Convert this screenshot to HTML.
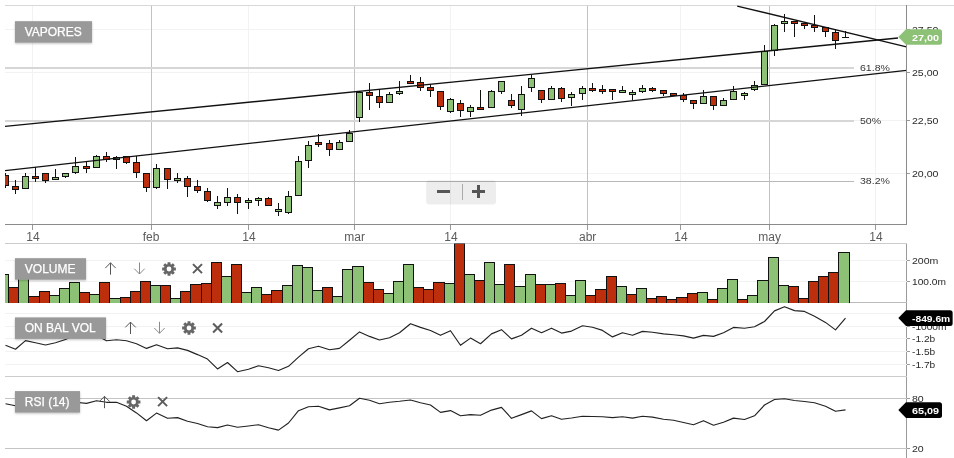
<!DOCTYPE html>
<html lang="es"><head><meta charset="utf-8"><title>VAPORES</title>
<style>html,body{margin:0;padding:0;background:#fff;overflow:hidden}svg{display:block}</style>
</head><body>
<svg width="954" height="458" viewBox="0 0 954 458" font-family="'Liberation Sans', sans-serif">
<defs>
<clipPath id="cm"><rect x="5" y="5" width="901.5" height="219.5"/></clipPath>
<clipPath id="cv"><rect x="5" y="243.5" width="901.5" height="59.5"/></clipPath>
<clipPath id="co"><rect x="5" y="303" width="901.5" height="73.5"/></clipPath>
<clipPath id="cr"><rect x="5" y="377" width="901.5" height="81"/></clipPath>
<filter id="sh" x="-10%" y="-20%" width="120%" height="150%"><feGaussianBlur in="SourceAlpha" stdDeviation="1"/><feOffset dy="1"/><feComponentTransfer><feFuncA type="linear" slope="0.25"/></feComponentTransfer><feMerge><feMergeNode/><feMergeNode in="SourceGraphic"/></feMerge></filter>
</defs>
<rect width="954" height="458" fill="#fff"/>
<g shape-rendering="crispEdges">
<line x1="5" x2="954" y1="5.5" y2="5.5" stroke="#d8d8d8"/>
<line x1="5" x2="906.5" y1="29.5" y2="29.5" stroke="#f2f2f2"/>
<line x1="5" x2="906.5" y1="72.5" y2="72.5" stroke="#f2f2f2"/>
<line x1="5" x2="906.5" y1="120.5" y2="120.5" stroke="#f2f2f2"/>
<line x1="5" x2="906.5" y1="173.5" y2="173.5" stroke="#f2f2f2"/>
<line x1="32.5" x2="32.5" y1="6" y2="224" stroke="#f2f2f2"/>
<line x1="151.5" x2="151.5" y1="6" y2="224" stroke="#c2c2c2"/>
<line x1="248.5" x2="248.5" y1="6" y2="224" stroke="#f2f2f2"/>
<line x1="354.5" x2="354.5" y1="6" y2="224" stroke="#c2c2c2"/>
<line x1="450.5" x2="450.5" y1="6" y2="224" stroke="#f2f2f2"/>
<line x1="587.5" x2="587.5" y1="6" y2="224" stroke="#c2c2c2"/>
<line x1="680.5" x2="680.5" y1="6" y2="224" stroke="#f2f2f2"/>
<line x1="769.5" x2="769.5" y1="6" y2="224" stroke="#c2c2c2"/>
<line x1="875.5" x2="875.5" y1="6" y2="224" stroke="#f2f2f2"/>
</g>
<line x1="5" x2="854" y1="68.0" y2="68.0" stroke="#d6d6d6" stroke-width="2"/>
<text transform="translate(860,71) scale(1.09,1)" font-size="9.7" fill="#383838">61.8%</text>
<line x1="5" x2="854" y1="121.0" y2="121.0" stroke="#d6d6d6" stroke-width="2"/>
<text transform="translate(860,124) scale(1.09,1)" font-size="9.7" fill="#383838">50%</text>
<line x1="5" x2="854" y1="181.5" y2="181.5" stroke="#b8b8b8" stroke-width="1"/>
<text transform="translate(860,184) scale(1.09,1)" font-size="9.7" fill="#383838">38.2%</text>
<g clip-path="url(#cm)"><g shape-rendering="crispEdges">
<line x1="5.5" x2="5.5" y1="173" y2="188" stroke="#111" stroke-width="1"/>
<rect x="2.5" y="175.50" width="6" height="10.00" fill="#bd2f0c" stroke="#111" stroke-width="1"/>
<line x1="15.5" x2="15.5" y1="180" y2="194" stroke="#111" stroke-width="1"/>
<rect x="12.5" y="186.50" width="6" height="3.00" fill="#bd2f0c" stroke="#111" stroke-width="1"/>
<line x1="25.5" x2="25.5" y1="173" y2="189" stroke="#111" stroke-width="1"/>
<rect x="22.5" y="176.50" width="6" height="12.00" fill="#8cc176" stroke="#111" stroke-width="1"/>
<line x1="35.5" x2="35.5" y1="167" y2="182" stroke="#111" stroke-width="1"/>
<rect x="32.5" y="176.50" width="6" height="2.00" fill="#bd2f0c" stroke="#111" stroke-width="1"/>
<line x1="45.5" x2="45.5" y1="173" y2="183" stroke="#111" stroke-width="1"/>
<rect x="42.5" y="173.50" width="6" height="7.00" fill="#bd2f0c" stroke="#111" stroke-width="1"/>
<line x1="55.5" x2="55.5" y1="169" y2="180" stroke="#111" stroke-width="1"/>
<rect x="52.5" y="177.50" width="6" height="2.00" fill="#8cc176" stroke="#111" stroke-width="1"/>
<line x1="65.5" x2="65.5" y1="173" y2="178" stroke="#111" stroke-width="1"/>
<rect x="62.5" y="173.50" width="6" height="3.00" fill="#8cc176" stroke="#111" stroke-width="1"/>
<line x1="75.5" x2="75.5" y1="157" y2="174" stroke="#111" stroke-width="1"/>
<rect x="72.5" y="166.50" width="6" height="6.00" fill="#8cc176" stroke="#111" stroke-width="1"/>
<line x1="86.5" x2="86.5" y1="161" y2="173" stroke="#111" stroke-width="1"/>
<rect x="83.5" y="166.50" width="6" height="2.00" fill="#bd2f0c" stroke="#111" stroke-width="1"/>
<line x1="96.5" x2="96.5" y1="155" y2="168" stroke="#111" stroke-width="1"/>
<rect x="93.5" y="156.50" width="6" height="11.00" fill="#8cc176" stroke="#111" stroke-width="1"/>
<line x1="106.5" x2="106.5" y1="152" y2="162" stroke="#111" stroke-width="1"/>
<rect x="103.5" y="156.50" width="6" height="3.00" fill="#bd2f0c" stroke="#111" stroke-width="1"/>
<line x1="116.5" x2="116.5" y1="156" y2="169" stroke="#111" stroke-width="1"/>
<rect x="113.5" y="157.50" width="6" height="2.00" fill="#8cc176" stroke="#111" stroke-width="1"/>
<line x1="126.5" x2="126.5" y1="156" y2="164" stroke="#111" stroke-width="1"/>
<rect x="123.5" y="156.50" width="6" height="6.00" fill="#bd2f0c" stroke="#111" stroke-width="1"/>
<line x1="136.5" x2="136.5" y1="156" y2="178" stroke="#111" stroke-width="1"/>
<rect x="133.5" y="162.50" width="6" height="10.00" fill="#bd2f0c" stroke="#111" stroke-width="1"/>
<line x1="146.5" x2="146.5" y1="173" y2="192" stroke="#111" stroke-width="1"/>
<rect x="143.5" y="173.50" width="6" height="14.00" fill="#bd2f0c" stroke="#111" stroke-width="1"/>
<line x1="156.5" x2="156.5" y1="164" y2="189" stroke="#111" stroke-width="1"/>
<rect x="153.5" y="168.50" width="6" height="19.00" fill="#8cc176" stroke="#111" stroke-width="1"/>
<line x1="167.5" x2="167.5" y1="168" y2="189" stroke="#111" stroke-width="1"/>
<rect x="164.5" y="168.50" width="6" height="11.00" fill="#bd2f0c" stroke="#111" stroke-width="1"/>
<line x1="177.5" x2="177.5" y1="173" y2="183" stroke="#111" stroke-width="1"/>
<rect x="174.5" y="178.50" width="6" height="2.00" fill="#8cc176" stroke="#111" stroke-width="1"/>
<line x1="187.5" x2="187.5" y1="176" y2="197" stroke="#111" stroke-width="1"/>
<rect x="184.5" y="178.50" width="6" height="8.00" fill="#bd2f0c" stroke="#111" stroke-width="1"/>
<line x1="197.5" x2="197.5" y1="180" y2="193" stroke="#111" stroke-width="1"/>
<rect x="194.5" y="186.50" width="6" height="4.00" fill="#bd2f0c" stroke="#111" stroke-width="1"/>
<line x1="207.5" x2="207.5" y1="188" y2="202" stroke="#111" stroke-width="1"/>
<rect x="204.5" y="191.50" width="6" height="9.00" fill="#bd2f0c" stroke="#111" stroke-width="1"/>
<line x1="217.5" x2="217.5" y1="196" y2="209" stroke="#111" stroke-width="1"/>
<rect x="214.5" y="202.50" width="6" height="3.00" fill="#8cc176" stroke="#111" stroke-width="1"/>
<line x1="227.5" x2="227.5" y1="188" y2="206" stroke="#111" stroke-width="1"/>
<rect x="224.5" y="197.50" width="6" height="5.00" fill="#8cc176" stroke="#111" stroke-width="1"/>
<line x1="237.5" x2="237.5" y1="194" y2="214" stroke="#111" stroke-width="1"/>
<rect x="234.5" y="197.50" width="6" height="5.00" fill="#bd2f0c" stroke="#111" stroke-width="1"/>
<line x1="248.5" x2="248.5" y1="198" y2="209" stroke="#111" stroke-width="1"/>
<rect x="245.5" y="200.50" width="6" height="2.00" fill="#8cc176" stroke="#111" stroke-width="1"/>
<line x1="258.5" x2="258.5" y1="197" y2="206" stroke="#111" stroke-width="1"/>
<rect x="255.5" y="198.50" width="6" height="2.00" fill="#8cc176" stroke="#111" stroke-width="1"/>
<line x1="268.5" x2="268.5" y1="197" y2="206" stroke="#111" stroke-width="1"/>
<rect x="265.5" y="198.50" width="6" height="7.00" fill="#bd2f0c" stroke="#111" stroke-width="1"/>
<line x1="278.5" x2="278.5" y1="203" y2="216" stroke="#111" stroke-width="1"/>
<rect x="275.5" y="209.50" width="6" height="2.00" fill="#8cc176" stroke="#111" stroke-width="1"/>
<line x1="288.5" x2="288.5" y1="191" y2="214" stroke="#111" stroke-width="1"/>
<rect x="285.5" y="196.50" width="6" height="16.00" fill="#8cc176" stroke="#111" stroke-width="1"/>
<line x1="298.5" x2="298.5" y1="156" y2="196" stroke="#111" stroke-width="1"/>
<rect x="295.5" y="161.50" width="6" height="34.00" fill="#8cc176" stroke="#111" stroke-width="1"/>
<line x1="308.5" x2="308.5" y1="141" y2="168" stroke="#111" stroke-width="1"/>
<rect x="305.5" y="145.50" width="6" height="15.00" fill="#8cc176" stroke="#111" stroke-width="1"/>
<line x1="318.5" x2="318.5" y1="134" y2="147" stroke="#111" stroke-width="1"/>
<rect x="315.5" y="142.50" width="6" height="2.00" fill="#bd2f0c" stroke="#111" stroke-width="1"/>
<line x1="329.5" x2="329.5" y1="140" y2="156" stroke="#111" stroke-width="1"/>
<rect x="326.5" y="143.50" width="6" height="6.00" fill="#bd2f0c" stroke="#111" stroke-width="1"/>
<line x1="339.5" x2="339.5" y1="140" y2="150" stroke="#111" stroke-width="1"/>
<rect x="336.5" y="142.50" width="6" height="7.00" fill="#8cc176" stroke="#111" stroke-width="1"/>
<line x1="349.5" x2="349.5" y1="130" y2="142" stroke="#111" stroke-width="1"/>
<rect x="346.5" y="133.50" width="6" height="8.00" fill="#8cc176" stroke="#111" stroke-width="1"/>
<line x1="359.5" x2="359.5" y1="91" y2="122" stroke="#111" stroke-width="1"/>
<rect x="356.5" y="92.50" width="6" height="25.00" fill="#8cc176" stroke="#111" stroke-width="1"/>
<line x1="369.5" x2="369.5" y1="83" y2="110" stroke="#111" stroke-width="1"/>
<rect x="366.5" y="92.50" width="6" height="3.00" fill="#bd2f0c" stroke="#111" stroke-width="1"/>
<line x1="379.5" x2="379.5" y1="89" y2="108" stroke="#111" stroke-width="1"/>
<rect x="376.5" y="96.50" width="6" height="6.00" fill="#bd2f0c" stroke="#111" stroke-width="1"/>
<line x1="389.5" x2="389.5" y1="92" y2="103" stroke="#111" stroke-width="1"/>
<rect x="386.5" y="94.50" width="6" height="8.00" fill="#8cc176" stroke="#111" stroke-width="1"/>
<line x1="399.5" x2="399.5" y1="81" y2="95" stroke="#111" stroke-width="1"/>
<rect x="396.5" y="91.50" width="6" height="2.00" fill="#8cc176" stroke="#111" stroke-width="1"/>
<line x1="410.5" x2="410.5" y1="75" y2="84" stroke="#111" stroke-width="1"/>
<rect x="407.5" y="81.50" width="6" height="2.00" fill="#bd2f0c" stroke="#111" stroke-width="1"/>
<line x1="420.5" x2="420.5" y1="77" y2="91" stroke="#111" stroke-width="1"/>
<rect x="417.5" y="82.50" width="6" height="5.00" fill="#bd2f0c" stroke="#111" stroke-width="1"/>
<line x1="430.5" x2="430.5" y1="84" y2="97" stroke="#111" stroke-width="1"/>
<rect x="427.5" y="87.50" width="6" height="3.00" fill="#bd2f0c" stroke="#111" stroke-width="1"/>
<line x1="440.5" x2="440.5" y1="91" y2="110" stroke="#111" stroke-width="1"/>
<rect x="437.5" y="91.50" width="6" height="15.00" fill="#bd2f0c" stroke="#111" stroke-width="1"/>
<line x1="450.5" x2="450.5" y1="98" y2="113" stroke="#111" stroke-width="1"/>
<rect x="447.5" y="99.50" width="6" height="12.00" fill="#8cc176" stroke="#111" stroke-width="1"/>
<line x1="460.5" x2="460.5" y1="100" y2="117" stroke="#111" stroke-width="1"/>
<rect x="457.5" y="103.50" width="6" height="7.00" fill="#bd2f0c" stroke="#111" stroke-width="1"/>
<line x1="470.5" x2="470.5" y1="105" y2="117" stroke="#111" stroke-width="1"/>
<rect x="467.5" y="107.50" width="6" height="4.00" fill="#8cc176" stroke="#111" stroke-width="1"/>
<line x1="480.5" x2="480.5" y1="90" y2="110" stroke="#111" stroke-width="1"/>
<rect x="477.5" y="107.50" width="6" height="2.00" fill="#bd2f0c" stroke="#111" stroke-width="1"/>
<line x1="491.5" x2="491.5" y1="90" y2="108" stroke="#111" stroke-width="1"/>
<rect x="488.5" y="91.50" width="6" height="16.00" fill="#8cc176" stroke="#111" stroke-width="1"/>
<line x1="501.5" x2="501.5" y1="81" y2="94" stroke="#111" stroke-width="1"/>
<rect x="498.5" y="81.50" width="6" height="10.00" fill="#8cc176" stroke="#111" stroke-width="1"/>
<line x1="511.5" x2="511.5" y1="94" y2="108" stroke="#111" stroke-width="1"/>
<rect x="508.5" y="100.50" width="6" height="5.00" fill="#bd2f0c" stroke="#111" stroke-width="1"/>
<line x1="521.5" x2="521.5" y1="86" y2="116" stroke="#111" stroke-width="1"/>
<rect x="518.5" y="94.50" width="6" height="15.00" fill="#8cc176" stroke="#111" stroke-width="1"/>
<line x1="531.5" x2="531.5" y1="75" y2="92" stroke="#111" stroke-width="1"/>
<rect x="528.5" y="78.50" width="6" height="9.00" fill="#8cc176" stroke="#111" stroke-width="1"/>
<line x1="541.5" x2="541.5" y1="90" y2="103" stroke="#111" stroke-width="1"/>
<rect x="538.5" y="90.50" width="6" height="9.00" fill="#bd2f0c" stroke="#111" stroke-width="1"/>
<line x1="551.5" x2="551.5" y1="86" y2="100" stroke="#111" stroke-width="1"/>
<rect x="548.5" y="88.50" width="6" height="11.00" fill="#8cc176" stroke="#111" stroke-width="1"/>
<line x1="561.5" x2="561.5" y1="87" y2="102" stroke="#111" stroke-width="1"/>
<rect x="558.5" y="88.50" width="6" height="10.00" fill="#bd2f0c" stroke="#111" stroke-width="1"/>
<line x1="571.5" x2="571.5" y1="92" y2="106" stroke="#111" stroke-width="1"/>
<rect x="568.5" y="94.50" width="6" height="3.00" fill="#8cc176" stroke="#111" stroke-width="1"/>
<line x1="582.5" x2="582.5" y1="86" y2="100" stroke="#111" stroke-width="1"/>
<rect x="579.5" y="88.50" width="6" height="5.00" fill="#8cc176" stroke="#111" stroke-width="1"/>
<line x1="592.5" x2="592.5" y1="83" y2="92" stroke="#111" stroke-width="1"/>
<rect x="589.5" y="88.50" width="6" height="2.00" fill="#bd2f0c" stroke="#111" stroke-width="1"/>
<line x1="602.5" x2="602.5" y1="85" y2="94" stroke="#111" stroke-width="1"/>
<rect x="599.5" y="89.50" width="6" height="2.00" fill="#bd2f0c" stroke="#111" stroke-width="1"/>
<line x1="612.5" x2="612.5" y1="89" y2="100" stroke="#111" stroke-width="1"/>
<rect x="609.5" y="89.50" width="6" height="2.00" fill="#bd2f0c" stroke="#111" stroke-width="1"/>
<line x1="622.5" x2="622.5" y1="86" y2="93" stroke="#111" stroke-width="1"/>
<rect x="619.5" y="90.50" width="6" height="2.00" fill="#8cc176" stroke="#111" stroke-width="1"/>
<line x1="632.5" x2="632.5" y1="90" y2="100" stroke="#111" stroke-width="1"/>
<rect x="629.5" y="92.50" width="6" height="2.00" fill="#8cc176" stroke="#111" stroke-width="1"/>
<line x1="642.5" x2="642.5" y1="85" y2="93" stroke="#111" stroke-width="1"/>
<rect x="639.5" y="88.50" width="6" height="3.00" fill="#8cc176" stroke="#111" stroke-width="1"/>
<line x1="652.5" x2="652.5" y1="87" y2="92" stroke="#111" stroke-width="1"/>
<rect x="649.5" y="88.50" width="6" height="2.00" fill="#bd2f0c" stroke="#111" stroke-width="1"/>
<line x1="663.5" x2="663.5" y1="90" y2="96" stroke="#111" stroke-width="1"/>
<rect x="660.5" y="90.50" width="6" height="3.00" fill="#bd2f0c" stroke="#111" stroke-width="1"/>
<line x1="673.5" x2="673.5" y1="93" y2="96" stroke="#111" stroke-width="1"/>
<rect x="670.5" y="93.50" width="6" height="2.00" fill="#bd2f0c" stroke="#111" stroke-width="1"/>
<line x1="683.5" x2="683.5" y1="93" y2="102" stroke="#111" stroke-width="1"/>
<rect x="680.5" y="95.50" width="6" height="4.00" fill="#bd2f0c" stroke="#111" stroke-width="1"/>
<line x1="693.5" x2="693.5" y1="100" y2="109" stroke="#111" stroke-width="1"/>
<rect x="690.5" y="100.50" width="6" height="3.00" fill="#bd2f0c" stroke="#111" stroke-width="1"/>
<line x1="703.5" x2="703.5" y1="90" y2="104" stroke="#111" stroke-width="1"/>
<rect x="700.5" y="96.50" width="6" height="7.00" fill="#8cc176" stroke="#111" stroke-width="1"/>
<line x1="713.5" x2="713.5" y1="96" y2="110" stroke="#111" stroke-width="1"/>
<rect x="710.5" y="96.50" width="6" height="9.00" fill="#bd2f0c" stroke="#111" stroke-width="1"/>
<line x1="723.5" x2="723.5" y1="98" y2="106" stroke="#111" stroke-width="1"/>
<rect x="720.5" y="100.50" width="6" height="5.00" fill="#8cc176" stroke="#111" stroke-width="1"/>
<line x1="733.5" x2="733.5" y1="86" y2="100" stroke="#111" stroke-width="1"/>
<rect x="730.5" y="91.50" width="6" height="8.00" fill="#8cc176" stroke="#111" stroke-width="1"/>
<line x1="744.5" x2="744.5" y1="92" y2="100" stroke="#111" stroke-width="1"/>
<rect x="741.5" y="93.50" width="6" height="2.00" fill="#8cc176" stroke="#111" stroke-width="1"/>
<line x1="754.5" x2="754.5" y1="81" y2="91" stroke="#111" stroke-width="1"/>
<rect x="751.5" y="85.50" width="6" height="4.00" fill="#8cc176" stroke="#111" stroke-width="1"/>
<line x1="764.5" x2="764.5" y1="45" y2="85" stroke="#111" stroke-width="1"/>
<rect x="761.5" y="51.50" width="6" height="33.00" fill="#8cc176" stroke="#111" stroke-width="1"/>
<line x1="774.5" x2="774.5" y1="24" y2="56" stroke="#111" stroke-width="1"/>
<rect x="771.5" y="25.50" width="6" height="25.00" fill="#8cc176" stroke="#111" stroke-width="1"/>
<line x1="784.5" x2="784.5" y1="14" y2="32" stroke="#111" stroke-width="1"/>
<rect x="781.5" y="21.50" width="6" height="2.00" fill="#8cc176" stroke="#111" stroke-width="1"/>
<line x1="794.5" x2="794.5" y1="21" y2="37" stroke="#111" stroke-width="1"/>
<rect x="791.5" y="21.50" width="6" height="2.00" fill="#bd2f0c" stroke="#111" stroke-width="1"/>
<line x1="804.5" x2="804.5" y1="23" y2="29" stroke="#111" stroke-width="1"/>
<rect x="801.5" y="23.50" width="6" height="2.00" fill="#bd2f0c" stroke="#111" stroke-width="1"/>
<line x1="814.5" x2="814.5" y1="15" y2="32" stroke="#111" stroke-width="1"/>
<rect x="811.5" y="25.50" width="6" height="2.00" fill="#bd2f0c" stroke="#111" stroke-width="1"/>
<line x1="825.5" x2="825.5" y1="27" y2="37" stroke="#111" stroke-width="1"/>
<rect x="822.5" y="27.50" width="6" height="4.00" fill="#bd2f0c" stroke="#111" stroke-width="1"/>
<line x1="835.5" x2="835.5" y1="29" y2="49" stroke="#111" stroke-width="1"/>
<rect x="832.5" y="32.50" width="6" height="8.00" fill="#bd2f0c" stroke="#111" stroke-width="1"/>
<line x1="845.5" x2="845.5" y1="31" y2="38" stroke="#111" stroke-width="1"/>
<line x1="842.0" x2="849.0" y1="37.5" y2="37.5" stroke="#111" stroke-width="1"/>
</g>
<line x1="5" y1="126.4" x2="898" y2="38.0" stroke="#111" stroke-width="1.35"/>
<line x1="5" y1="170.6" x2="906.5" y2="70.3" stroke="#111" stroke-width="1.35"/>
<line x1="737.2" y1="6.1" x2="906.5" y2="46.8" stroke="#111" stroke-width="1.35"/>
</g>
<g shape-rendering="crispEdges">
<line x1="5" x2="907.0" y1="224.5" y2="224.5" stroke="#8a8a8a"/>
<line x1="906.5" x2="906.5" y1="5" y2="225" stroke="#8a8a8a"/>
<line x1="906.5" x2="906.5" y1="243" y2="458" stroke="#9a9a9a"/>
<line x1="32.5" x2="32.5" y1="225" y2="230" stroke="#999"/>
<line x1="151.5" x2="151.5" y1="225" y2="230" stroke="#999"/>
<line x1="248.5" x2="248.5" y1="225" y2="230" stroke="#999"/>
<line x1="354.5" x2="354.5" y1="225" y2="230" stroke="#999"/>
<line x1="450.5" x2="450.5" y1="225" y2="230" stroke="#999"/>
<line x1="587.5" x2="587.5" y1="225" y2="230" stroke="#999"/>
<line x1="680.5" x2="680.5" y1="225" y2="230" stroke="#999"/>
<line x1="769.5" x2="769.5" y1="225" y2="230" stroke="#999"/>
<line x1="875.5" x2="875.5" y1="225" y2="230" stroke="#999"/>
<line x1="5" x2="906.5" y1="243.5" y2="243.5" stroke="#ccc"/>
<line x1="5" x2="906.5" y1="302.5" y2="302.5" stroke="#bbb"/>
<line x1="5" x2="906.5" y1="376.5" y2="376.5" stroke="#ccc"/>
<line x1="5" x2="906.5" y1="260.5" y2="260.5" stroke="#f2f2f2"/>
<line x1="5" x2="906.5" y1="281.5" y2="281.5" stroke="#f2f2f2"/>
<line x1="5" x2="906.5" y1="313.5" y2="313.5" stroke="#f2f2f2"/>
<line x1="5" x2="906.5" y1="326.5" y2="326.5" stroke="#f2f2f2"/>
<line x1="5" x2="906.5" y1="338.5" y2="338.5" stroke="#f2f2f2"/>
<line x1="5" x2="906.5" y1="351.5" y2="351.5" stroke="#f2f2f2"/>
<line x1="5" x2="906.5" y1="364.5" y2="364.5" stroke="#f2f2f2"/>
<line x1="5" x2="906.5" y1="398.5" y2="398.5" stroke="#c4c4c4"/>
<line x1="5" x2="906.5" y1="448.5" y2="448.5" stroke="#c4c4c4"/>
<line x1="906.5" x2="910.0" y1="29.5" y2="29.5" stroke="#999"/>
<line x1="906.5" x2="910.0" y1="72.5" y2="72.5" stroke="#999"/>
<line x1="906.5" x2="910.0" y1="120.5" y2="120.5" stroke="#999"/>
<line x1="906.5" x2="910.0" y1="173.5" y2="173.5" stroke="#999"/>
<line x1="906.5" x2="910.0" y1="260.5" y2="260.5" stroke="#999"/>
<line x1="906.5" x2="910.0" y1="281.5" y2="281.5" stroke="#999"/>
<line x1="906.5" x2="910.0" y1="326.5" y2="326.5" stroke="#999"/>
<line x1="906.5" x2="910.0" y1="338.5" y2="338.5" stroke="#999"/>
<line x1="906.5" x2="910.0" y1="351.5" y2="351.5" stroke="#999"/>
<line x1="906.5" x2="910.0" y1="364.5" y2="364.5" stroke="#999"/>
<line x1="906.5" x2="910.0" y1="398.5" y2="398.5" stroke="#999"/>
<line x1="906.5" x2="910.0" y1="448.5" y2="448.5" stroke="#999"/>
</g>
<text x="33.0" y="241" font-size="12" fill="#5c5c5c" text-anchor="middle">14</text>
<text x="151.0" y="241" font-size="12" fill="#5c5c5c" text-anchor="middle">feb</text>
<text x="249.0" y="241" font-size="12" fill="#5c5c5c" text-anchor="middle">14</text>
<text x="354.7" y="241" font-size="12" fill="#5c5c5c" text-anchor="middle">mar</text>
<text x="451.0" y="241" font-size="12" fill="#5c5c5c" text-anchor="middle">14</text>
<text x="587.7" y="241" font-size="12" fill="#5c5c5c" text-anchor="middle">abr</text>
<text x="681.0" y="241" font-size="12" fill="#5c5c5c" text-anchor="middle">14</text>
<text x="769.7" y="241" font-size="12" fill="#5c5c5c" text-anchor="middle">may</text>
<text x="876.0" y="241" font-size="12" fill="#5c5c5c" text-anchor="middle">14</text>
<text transform="translate(912,33) scale(1.09,1)" font-size="9.7" fill="#2a2a2a">27,50</text>
<text transform="translate(912,76) scale(1.09,1)" font-size="9.7" fill="#2a2a2a">25,00</text>
<text transform="translate(912,124) scale(1.09,1)" font-size="9.7" fill="#2a2a2a">22,50</text>
<text transform="translate(912,177) scale(1.09,1)" font-size="9.7" fill="#2a2a2a">20,00</text>
<text transform="translate(912,264) scale(1.09,1)" font-size="9.7" fill="#2a2a2a">200m</text>
<text transform="translate(912,285) scale(1.05,1)" font-size="9.7" fill="#2a2a2a">100.0m</text>
<text transform="translate(912,330) scale(1.05,1)" font-size="9.7" fill="#2a2a2a">-1000m</text>
<text transform="translate(912,342) scale(1.05,1)" font-size="9.7" fill="#2a2a2a">-1.2b</text>
<text transform="translate(912,355) scale(1.05,1)" font-size="9.7" fill="#2a2a2a">-1.5b</text>
<text transform="translate(912,368) scale(1.05,1)" font-size="9.7" fill="#2a2a2a">-1.7b</text>
<text transform="translate(912,402) scale(1.09,1)" font-size="9.7" fill="#2a2a2a">80</text>
<text transform="translate(912,452) scale(1.09,1)" font-size="9.7" fill="#2a2a2a">20</text>
<g clip-path="url(#cv)" shape-rendering="crispEdges">
<path d="M-1.5 303V274.5H8.5V303" fill="#8cc176" stroke="#111" stroke-width="1"/>
<path d="M8.5 303V287.5H18.5V303" fill="#bd2f0c" stroke="#111" stroke-width="1"/>
<path d="M18.5 303V267.5H28.5V303" fill="#8cc176" stroke="#111" stroke-width="1"/>
<path d="M28.5 303V296.5H39.5V303" fill="#bd2f0c" stroke="#111" stroke-width="1"/>
<path d="M39.5 303V291.5H49.5V303" fill="#bd2f0c" stroke="#111" stroke-width="1"/>
<path d="M49.5 303V295.5H59.5V303" fill="#8cc176" stroke="#111" stroke-width="1"/>
<path d="M59.5 303V288.5H69.5V303" fill="#8cc176" stroke="#111" stroke-width="1"/>
<path d="M69.5 303V282.5H79.5V303" fill="#8cc176" stroke="#111" stroke-width="1"/>
<path d="M79.5 303V292.5H89.5V303" fill="#bd2f0c" stroke="#111" stroke-width="1"/>
<path d="M89.5 303V294.5H99.5V303" fill="#8cc176" stroke="#111" stroke-width="1"/>
<path d="M99.5 303V282.5H109.5V303" fill="#bd2f0c" stroke="#111" stroke-width="1"/>
<path d="M109.5 303V298.5H120.5V303" fill="#8cc176" stroke="#111" stroke-width="1"/>
<path d="M120.5 303V297.5H130.5V303" fill="#bd2f0c" stroke="#111" stroke-width="1"/>
<path d="M130.5 303V291.5H140.5V303" fill="#bd2f0c" stroke="#111" stroke-width="1"/>
<path d="M140.5 303V281.5H150.5V303" fill="#bd2f0c" stroke="#111" stroke-width="1"/>
<path d="M150.5 303V285.5H160.5V303" fill="#8cc176" stroke="#111" stroke-width="1"/>
<path d="M160.5 303V285.5H170.5V303" fill="#bd2f0c" stroke="#111" stroke-width="1"/>
<path d="M170.5 303V298.5H180.5V303" fill="#8cc176" stroke="#111" stroke-width="1"/>
<path d="M180.5 303V291.5H190.5V303" fill="#bd2f0c" stroke="#111" stroke-width="1"/>
<path d="M190.5 303V284.5H201.5V303" fill="#bd2f0c" stroke="#111" stroke-width="1"/>
<path d="M201.5 303V283.5H211.5V303" fill="#bd2f0c" stroke="#111" stroke-width="1"/>
<path d="M211.5 303V262.5H221.5V303" fill="#bd2f0c" stroke="#111" stroke-width="1"/>
<path d="M221.5 303V276.5H231.5V303" fill="#8cc176" stroke="#111" stroke-width="1"/>
<path d="M231.5 303V264.5H241.5V303" fill="#bd2f0c" stroke="#111" stroke-width="1"/>
<path d="M241.5 303V292.5H251.5V303" fill="#8cc176" stroke="#111" stroke-width="1"/>
<path d="M251.5 303V287.5H261.5V303" fill="#8cc176" stroke="#111" stroke-width="1"/>
<path d="M261.5 303V294.5H271.5V303" fill="#bd2f0c" stroke="#111" stroke-width="1"/>
<path d="M271.5 303V290.5H282.5V303" fill="#bd2f0c" stroke="#111" stroke-width="1"/>
<path d="M282.5 303V285.5H292.5V303" fill="#8cc176" stroke="#111" stroke-width="1"/>
<path d="M292.5 303V265.5H302.5V303" fill="#8cc176" stroke="#111" stroke-width="1"/>
<path d="M302.5 303V267.5H312.5V303" fill="#8cc176" stroke="#111" stroke-width="1"/>
<path d="M312.5 303V290.5H322.5V303" fill="#8cc176" stroke="#111" stroke-width="1"/>
<path d="M322.5 303V287.5H332.5V303" fill="#bd2f0c" stroke="#111" stroke-width="1"/>
<path d="M332.5 303V296.5H342.5V303" fill="#8cc176" stroke="#111" stroke-width="1"/>
<path d="M342.5 303V269.5H352.5V303" fill="#8cc176" stroke="#111" stroke-width="1"/>
<path d="M352.5 303V266.5H363.5V303" fill="#8cc176" stroke="#111" stroke-width="1"/>
<path d="M363.5 303V282.5H373.5V303" fill="#bd2f0c" stroke="#111" stroke-width="1"/>
<path d="M373.5 303V289.5H383.5V303" fill="#bd2f0c" stroke="#111" stroke-width="1"/>
<path d="M383.5 303V293.5H393.5V303" fill="#8cc176" stroke="#111" stroke-width="1"/>
<path d="M393.5 303V281.5H403.5V303" fill="#8cc176" stroke="#111" stroke-width="1"/>
<path d="M403.5 303V264.5H413.5V303" fill="#8cc176" stroke="#111" stroke-width="1"/>
<path d="M413.5 303V287.5H423.5V303" fill="#bd2f0c" stroke="#111" stroke-width="1"/>
<path d="M423.5 303V289.5H433.5V303" fill="#bd2f0c" stroke="#111" stroke-width="1"/>
<path d="M433.5 303V282.5H444.5V303" fill="#bd2f0c" stroke="#111" stroke-width="1"/>
<path d="M444.5 303V283.5H454.5V303" fill="#8cc176" stroke="#111" stroke-width="1"/>
<path d="M454.5 303V243.5H464.5V303" fill="#bd2f0c" stroke="#111" stroke-width="1"/>
<path d="M464.5 303V274.5H474.5V303" fill="#8cc176" stroke="#111" stroke-width="1"/>
<path d="M474.5 303V280.5H484.5V303" fill="#bd2f0c" stroke="#111" stroke-width="1"/>
<path d="M484.5 303V262.5H494.5V303" fill="#8cc176" stroke="#111" stroke-width="1"/>
<path d="M494.5 303V284.5H504.5V303" fill="#8cc176" stroke="#111" stroke-width="1"/>
<path d="M504.5 303V264.5H514.5V303" fill="#bd2f0c" stroke="#111" stroke-width="1"/>
<path d="M514.5 303V286.5H525.5V303" fill="#8cc176" stroke="#111" stroke-width="1"/>
<path d="M525.5 303V274.5H535.5V303" fill="#8cc176" stroke="#111" stroke-width="1"/>
<path d="M535.5 303V284.5H545.5V303" fill="#bd2f0c" stroke="#111" stroke-width="1"/>
<path d="M545.5 303V284.5H555.5V303" fill="#8cc176" stroke="#111" stroke-width="1"/>
<path d="M555.5 303V283.5H565.5V303" fill="#bd2f0c" stroke="#111" stroke-width="1"/>
<path d="M565.5 303V295.5H575.5V303" fill="#8cc176" stroke="#111" stroke-width="1"/>
<path d="M575.5 303V280.5H585.5V303" fill="#8cc176" stroke="#111" stroke-width="1"/>
<path d="M585.5 303V295.5H595.5V303" fill="#bd2f0c" stroke="#111" stroke-width="1"/>
<path d="M595.5 303V289.5H606.5V303" fill="#bd2f0c" stroke="#111" stroke-width="1"/>
<path d="M606.5 303V276.5H616.5V303" fill="#bd2f0c" stroke="#111" stroke-width="1"/>
<path d="M616.5 303V286.5H626.5V303" fill="#8cc176" stroke="#111" stroke-width="1"/>
<path d="M626.5 303V294.5H636.5V303" fill="#bd2f0c" stroke="#111" stroke-width="1"/>
<path d="M636.5 303V288.5H646.5V303" fill="#8cc176" stroke="#111" stroke-width="1"/>
<path d="M646.5 303V298.5H656.5V303" fill="#bd2f0c" stroke="#111" stroke-width="1"/>
<path d="M656.5 303V296.5H666.5V303" fill="#bd2f0c" stroke="#111" stroke-width="1"/>
<path d="M666.5 303V299.5H676.5V303" fill="#bd2f0c" stroke="#111" stroke-width="1"/>
<path d="M676.5 303V297.5H687.5V303" fill="#bd2f0c" stroke="#111" stroke-width="1"/>
<path d="M687.5 303V293.5H697.5V303" fill="#bd2f0c" stroke="#111" stroke-width="1"/>
<path d="M697.5 303V292.5H707.5V303" fill="#8cc176" stroke="#111" stroke-width="1"/>
<path d="M707.5 303V299.5H717.5V303" fill="#bd2f0c" stroke="#111" stroke-width="1"/>
<path d="M717.5 303V288.5H727.5V303" fill="#8cc176" stroke="#111" stroke-width="1"/>
<path d="M727.5 303V279.5H737.5V303" fill="#8cc176" stroke="#111" stroke-width="1"/>
<path d="M737.5 303V299.5H747.5V303" fill="#bd2f0c" stroke="#111" stroke-width="1"/>
<path d="M747.5 303V295.5H757.5V303" fill="#8cc176" stroke="#111" stroke-width="1"/>
<path d="M757.5 303V280.5H768.5V303" fill="#8cc176" stroke="#111" stroke-width="1"/>
<path d="M768.5 303V257.5H778.5V303" fill="#8cc176" stroke="#111" stroke-width="1"/>
<path d="M778.5 303V285.5H788.5V303" fill="#8cc176" stroke="#111" stroke-width="1"/>
<path d="M788.5 303V286.5H798.5V303" fill="#bd2f0c" stroke="#111" stroke-width="1"/>
<path d="M798.5 303V298.5H808.5V303" fill="#bd2f0c" stroke="#111" stroke-width="1"/>
<path d="M808.5 303V281.5H818.5V303" fill="#bd2f0c" stroke="#111" stroke-width="1"/>
<path d="M818.5 303V276.5H828.5V303" fill="#bd2f0c" stroke="#111" stroke-width="1"/>
<path d="M828.5 303V272.5H838.5V303" fill="#bd2f0c" stroke="#111" stroke-width="1"/>
<path d="M838.5 303V252.5H849.5V303" fill="#8cc176" stroke="#111" stroke-width="1"/>
</g>
<polyline clip-path="url(#co)" points="5.5,345.3 15.5,349.2 25.5,340.6 35.5,342.8 45.5,345.0 55.5,342.8 65.5,339.5 75.5,334.7 86.5,337.1 96.5,335.2 106.5,340.8 116.5,339.8 126.5,340.8 136.5,343.7 146.5,348.4 156.5,344.8 167.5,348.7 177.5,347.9 187.5,350.4 197.5,354.6 207.5,359.1 217.5,368.9 227.5,362.5 237.5,371.7 248.5,369.2 258.5,365.8 268.5,367.7 278.5,370.5 288.5,366.3 298.5,357.1 308.5,348.7 318.5,346.2 329.5,349.7 339.5,348.4 349.5,340.3 359.5,331.9 369.5,336.4 379.5,340.0 389.5,337.8 399.5,332.7 410.5,323.8 420.5,327.4 430.5,330.5 440.5,335.3 450.5,330.7 460.5,345.3 470.5,338.1 480.5,343.7 491.5,333.9 501.5,329.7 511.5,338.9 521.5,335.3 531.5,328.2 541.5,332.7 551.5,328.2 561.5,333.1 571.5,331.1 582.5,325.8 592.5,327.2 602.5,330.4 612.5,336.9 622.5,332.7 632.5,335.3 642.5,331.4 652.5,332.2 663.5,333.9 673.5,334.7 683.5,335.9 693.5,338.1 703.5,335.4 713.5,336.4 723.5,332.7 733.5,327.4 744.5,328.2 754.5,326.7 764.5,321.5 774.5,310.9 784.5,306.7 794.5,310.6 804.5,311.4 814.5,316.3 825.5,322.4 835.5,329.9 845.5,318.2" fill="none" stroke="#222" stroke-width="1.15" stroke-linejoin="round"/>
<polyline clip-path="url(#cr)" points="5.5,403.7 15.5,405.7 25.5,404.5 35.5,404.0 45.5,404.5 55.5,404.0 65.5,403.0 75.5,402.3 86.5,403.4 96.5,400.7 106.5,402.3 116.5,402.3 126.5,406.2 136.5,412.9 146.5,420.7 156.5,413.1 167.5,418.3 177.5,417.6 187.5,421.3 197.5,423.5 207.5,426.7 217.5,427.6 227.5,425.0 237.5,427.2 248.5,426.0 258.5,424.7 268.5,427.7 278.5,430.1 288.5,423.0 298.5,410.7 308.5,406.7 318.5,406.2 329.5,409.9 339.5,407.9 349.5,405.7 359.5,398.3 369.5,400.3 379.5,403.7 389.5,402.2 399.5,401.3 410.5,400.0 420.5,402.8 430.5,405.0 440.5,412.4 450.5,410.6 460.5,415.8 470.5,414.6 480.5,415.3 491.5,410.1 501.5,407.4 511.5,418.3 521.5,414.6 531.5,410.9 541.5,418.6 551.5,415.8 561.5,419.3 571.5,418.0 582.5,416.3 592.5,416.5 602.5,416.7 612.5,417.6 622.5,416.8 632.5,418.1 642.5,416.3 652.5,417.1 663.5,419.2 673.5,420.2 683.5,422.5 693.5,424.7 703.5,420.7 713.5,425.2 723.5,422.2 733.5,418.1 744.5,419.5 754.5,415.8 764.5,405.0 774.5,399.5 784.5,398.8 794.5,400.5 804.5,401.5 814.5,402.8 825.5,406.2 835.5,411.3 845.5,409.9" fill="none" stroke="#222" stroke-width="1.15" stroke-linejoin="round"/>
<g>
<rect x="426.5" y="181" width="69.5" height="24" rx="3" fill="#000" fill-opacity="0.02"/>
<rect x="426" y="180.3" width="70" height="24" rx="3" fill="#000" fill-opacity="0.05"/>
<line x1="462.5" x2="462.5" y1="183.5" y2="199.5" stroke="#aaa" shape-rendering="crispEdges"/>
<rect x="437" y="190" width="13" height="3" fill="#555"/>
<rect x="472" y="190" width="13" height="3" fill="#555"/>
<rect x="477" y="185" width="3" height="13" fill="#555"/>
</g>
<rect x="15" y="21.2" width="77" height="21.5" fill="#999" filter="url(#sh)"/>
<text x="53.2" y="35.8" font-size="12" fill="#fff" stroke="#fff" stroke-width="0.25" text-anchor="middle">VAPORES</text>
<rect x="15" y="258.2" width="71" height="21.5" fill="#999" filter="url(#sh)"/>
<text x="50.2" y="272.8" font-size="12" fill="#fff" stroke="#fff" stroke-width="0.25" text-anchor="middle">VOLUME</text>
<rect x="15" y="317.4" width="91" height="21.5" fill="#999" filter="url(#sh)"/>
<text x="60.2" y="332.0" font-size="12" fill="#fff" stroke="#fff" stroke-width="0.25" text-anchor="middle">ON BAL VOL</text>
<rect x="15" y="391.1" width="65" height="21.5" fill="#999" filter="url(#sh)"/>
<text x="47.2" y="405.7" font-size="12" fill="#fff" stroke="#fff" stroke-width="0.25" text-anchor="middle">RSI (14)</text>
<path d="M110.5 274.7V262.7M105.3 268.09999999999997L110.5 262.8L115.7 268.09999999999997" fill="none" stroke="#555" stroke-width="1"/>
<path d="M139.5 262.5V274.0M134.3 268.7L139.5 274.0L144.7 268.7" fill="none" stroke="#8a8a8a" stroke-width="1"/>
<path d="M173.87 267.49L175.85 267.54L175.85 270.46L173.87 270.51L173.51 271.38L174.87 272.81L172.81 274.87L171.38 273.51L170.51 273.87L170.46 275.85L167.54 275.85L167.49 273.87L166.62 273.51L165.19 274.87L163.13 272.81L164.49 271.38L164.13 270.51L162.15 270.46L162.15 267.54L164.13 267.49L164.49 266.62L163.13 265.19L165.19 263.13L166.62 264.49L167.49 264.13L167.54 262.15L170.46 262.15L170.51 264.13L171.38 264.49L172.81 263.13L174.87 265.19L173.51 266.62ZM171.4 269A2.4 2.4 0 1 0 166.6 269A2.4 2.4 0 1 0 171.4 269Z" fill="#666" fill-rule="evenodd"/>
<path d="M193.0 264.1L202.0 273.1M202.0 264.1L193.0 273.1" fill="none" stroke="#5c5c5c" stroke-width="2"/>
<path d="M130.5 334V322M125.3 327.4L130.5 322.1L135.7 327.4" fill="none" stroke="#555" stroke-width="1"/>
<path d="M159.5 321.8V333.3M154.3 328.0L159.5 333.3L164.7 328.0" fill="none" stroke="#8a8a8a" stroke-width="1"/>
<path d="M193.87 326.49L195.85 326.54L195.85 329.46L193.87 329.51L193.51 330.38L194.87 331.81L192.81 333.87L191.38 332.51L190.51 332.87L190.46 334.85L187.54 334.85L187.49 332.87L186.62 332.51L185.19 333.87L183.13 331.81L184.49 330.38L184.13 329.51L182.15 329.46L182.15 326.54L184.13 326.49L184.49 325.62L183.13 324.19L185.19 322.13L186.62 323.49L187.49 323.13L187.54 321.15L190.46 321.15L190.51 323.13L191.38 323.49L192.81 322.13L194.87 324.19L193.51 325.62ZM191.4 328A2.4 2.4 0 1 0 186.6 328A2.4 2.4 0 1 0 191.4 328Z" fill="#666" fill-rule="evenodd"/>
<path d="M213.1 323.5L222.1 332.5M222.1 323.5L213.1 332.5" fill="none" stroke="#5c5c5c" stroke-width="2"/>
<path d="M104.5 408.2V396.2M99.3 401.59999999999997L104.5 396.3L109.7 401.59999999999997" fill="none" stroke="#555" stroke-width="1"/>
<path d="M138.47 400.49L140.45 400.54L140.45 403.46L138.47 403.51L138.11 404.38L139.47 405.81L137.41 407.87L135.98 406.51L135.11 406.87L135.06 408.85L132.14 408.85L132.09 406.87L131.22 406.51L129.79 407.87L127.73 405.81L129.09 404.38L128.73 403.51L126.75 403.46L126.75 400.54L128.73 400.49L129.09 399.62L127.73 398.19L129.79 396.13L131.22 397.49L132.09 397.13L132.14 395.15L135.06 395.15L135.11 397.13L135.98 397.49L137.41 396.13L139.47 398.19L138.11 399.62ZM136.0 402A2.4 2.4 0 1 0 131.2 402A2.4 2.4 0 1 0 136.0 402Z" fill="#666" fill-rule="evenodd"/>
<path d="M158.1 397.1L167.1 406.1M167.1 397.1L158.1 406.1" fill="none" stroke="#5c5c5c" stroke-width="2"/>
<path d="M898.3 37L906 29.2H939.5Q942 29.2 942 31.7V42.3Q942 44.8 939.5 44.8H906Z" fill="#8cc176"/>
<text transform="translate(912,41) scale(1.12,1)" font-size="9.7" fill="#fff" font-weight="bold">27,00</text>
<path d="M898.3 318.1L906 310.3H950.1Q952.6 310.3 952.6 312.8V323.40000000000003Q952.6 325.90000000000003 950.1 325.90000000000003H906Z" fill="#000"/>
<text transform="translate(912,322) scale(1.06,1)" font-size="9.7" fill="#fff" font-weight="bold">-849.6m</text>
<path d="M898.3 410.1L906 402.3H939.5Q942 402.3 942 404.8V415.40000000000003Q942 417.90000000000003 939.5 417.90000000000003H906Z" fill="#000"/>
<text transform="translate(912,414) scale(1.12,1)" font-size="9.7" fill="#fff" font-weight="bold">65,09</text>
</svg>
</body></html>
